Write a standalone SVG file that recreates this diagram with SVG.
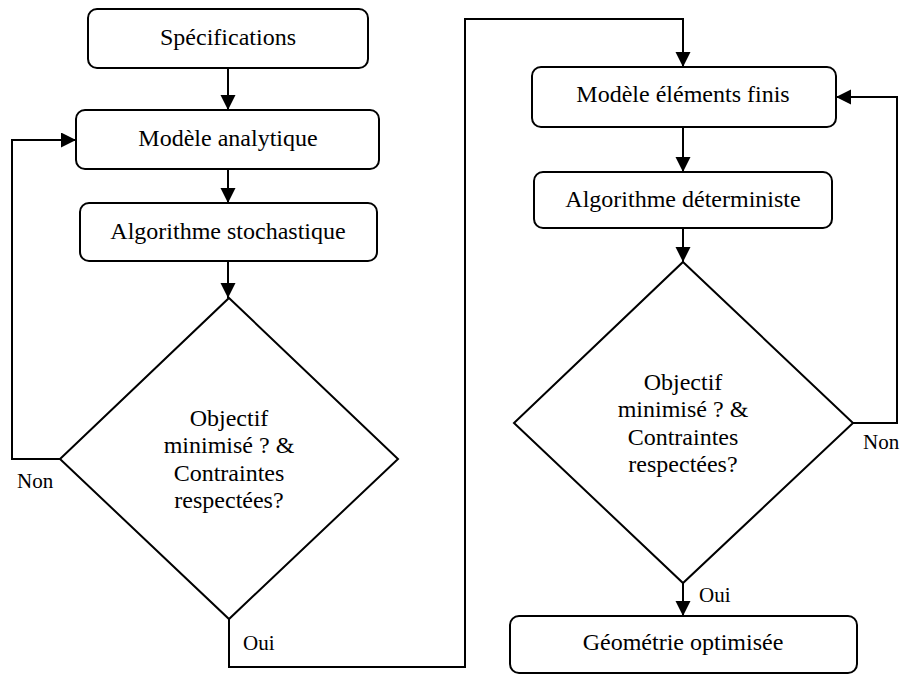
<svg xmlns="http://www.w3.org/2000/svg" width="900" height="675" viewBox="0 0 900 675">
<style>
.box{fill:#fff;stroke:#000;stroke-width:2}
.dia{fill:#fff;stroke:#000;stroke-width:2}
.t{font-size:24px;fill:#000;text-anchor:middle}
.lbl{font-size:21px;fill:#000}
.c{fill:none;stroke:#000;stroke-width:2}
</style>
<defs>
<marker id="ah" markerUnits="userSpaceOnUse" markerWidth="16" markerHeight="16" viewBox="0 0 16 16" refX="15" refY="7.5" orient="auto">
<path d="M0,0 L15,7.5 L0,15 z" fill="#000"/>
</marker>
</defs>
<rect width="900" height="675" fill="#fff"/>
<g id="connectors">
<path class="c" d="M228,68 V110" marker-end="url(#ah)"/>
<path class="c" d="M228,169 V203" marker-end="url(#ah)"/>
<path class="c" d="M228,261 V298" marker-end="url(#ah)"/>
<path class="c" d="M60,459 H12 V140 H76" marker-end="url(#ah)"/>
<path class="c" d="M229,619 V667 H465 V19 H683 V67" marker-end="url(#ah)"/>
<path class="c" d="M683,127 V172" marker-end="url(#ah)"/>
<path class="c" d="M683,228 V262" marker-end="url(#ah)"/>
<path class="c" d="M853,423 H897 V97 H836" marker-end="url(#ah)"/>
<path class="c" d="M683,583 V616" marker-end="url(#ah)"/>
</g>
<g font-family="'Liberation Serif', 'Times New Roman', serif">
<g id="specifications">
<rect class="box" x="88" y="9" width="280" height="59" rx="9"/>
<text class="t" x="228" y="45">Spécifications</text>
</g>
<g id="modele-analytique">
<rect class="box" x="76" y="110" width="303" height="59" rx="9"/>
<text class="t" x="228" y="146">Modèle analytique</text>
</g>
<g id="algo-stochastique">
<rect class="box" x="80" y="203" width="297" height="58" rx="9"/>
<text class="t" x="228" y="239">Algorithme stochastique</text>
</g>
<g id="decision1">
<polygon class="dia" points="229,298 398,459 229,619 60,459"/>
<text class="t" x="229" y="426">Objectif</text>
<text class="t" x="229" y="453">minimisé ? &amp;</text>
<text class="t" x="229" y="481">Contraintes</text>
<text class="t" x="229" y="508">respectées?</text>
</g>
<g id="modele-ef">
<rect class="box" x="532" y="67" width="304" height="60" rx="9"/>
<text class="t" x="683" y="102">Modèle éléments finis</text>
</g>
<g id="algo-deterministe">
<rect class="box" x="534" y="172" width="298" height="56" rx="9"/>
<text class="t" x="683" y="207">Algorithme déterministe</text>
</g>
<g id="decision2">
<polygon class="dia" points="683,262 853,423 683,583 514,423"/>
<text class="t" x="683" y="390">Objectif</text>
<text class="t" x="683" y="417">minimisé ? &amp;</text>
<text class="t" x="683" y="445">Contraintes</text>
<text class="t" x="683" y="472">respectées?</text>
</g>
<g id="geometrie">
<rect class="box" x="510" y="616" width="347" height="57" rx="9"/>
<text class="t" x="683" y="650">Géométrie optimisée</text>
</g>
<g id="labels">
<text class="lbl" x="17" y="488">Non</text>
<text class="lbl" x="243" y="650">Oui</text>
<text class="lbl" x="863" y="449">Non</text>
<text class="lbl" x="699" y="602">Oui</text>
</g>
</g>
</svg>
